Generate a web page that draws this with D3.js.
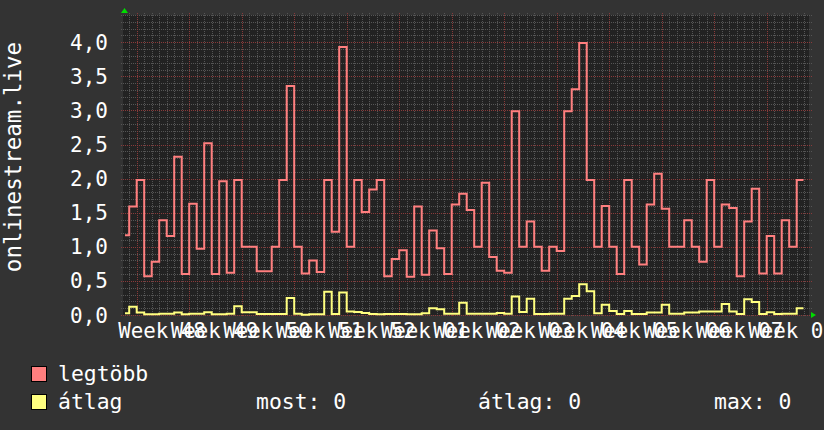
<!DOCTYPE html>
<html><head><meta charset="utf-8">
<script src="https://cdn.jsdelivr.net/npm/d3@7"></script>
<style>html,body{margin:0;padding:0;background:#333333;overflow:hidden;} svg{display:block;}</style>
</head><body>
<svg id="chart" width="824" height="430"></svg>
<script>
// ---- data (one value per day, starting at day0) ----
const day0 = Date.UTC(2024, 10, 23);
const maxValues = [1.17,1.59,1.98,0.57,0.78,1.39,1.16,2.32,0.60,1.63,0.97,2.52,0.60,1.96,0.62,1.98,1.00,1.00,0.64,0.64,
  1.00,1.98,3.36,1.00,0.61,0.80,0.63,1.98,1.22,3.93,1.00,1.98,1.51,1.84,1.98,0.57,0.82,0.95,0.56,1.59,
  0.59,1.24,0.98,0.60,1.62,1.78,1.54,1.00,1.94,0.85,0.65,0.62,2.99,1.00,1.37,1.00,0.65,1.00,0.94,2.99,
  3.31,3.99,1.98,1.00,1.60,1.00,0.60,1.98,1.00,0.74,1.62,2.07,1.56,1.00,1.00,1.39,1.00,0.78,1.98,1.00,
  1.62,1.57,0.57,1.37,1.85,0.61,1.16,0.61,1.39,1.00,1.98];
const avgValues = [0.025,0.12,0.035,0.01,0.01,0.02,0.02,0.035,0.01,0.02,0.02,0.04,0.01,0.01,0.02,0.13,0.04,0.04,0.015,0.015,
  0.015,0.015,0.25,0.02,0.005,0.01,0.01,0.34,0.015,0.33,0.05,0.045,0.03,0.015,0.01,0.015,0.015,0.015,0.01,0.01,
  0.025,0.10,0.085,0.02,0.02,0.18,0.02,0.02,0.02,0.02,0.03,0.02,0.27,0.045,0.24,0.015,0.015,0.02,0.02,0.24,
  0.28,0.45,0.35,0.025,0.15,0.06,0.015,0.06,0.015,0.015,0.035,0.035,0.15,0.02,0.02,0.035,0.035,0.05,0.05,0.05,
  0.16,0.05,0.015,0.23,0.19,0.015,0.04,0.015,0.02,0.02,0.10];
const yTicks = [0,0.5,1.0,1.5,2.0,2.5,3.0,3.5,4.0];
const seriesNames = ["legtöbb","átlag"];
const seriesColors = ["#ff7f7f","#ffff7f"];
const statLabels = ["most: 0","átlag: 0","max: 0"];
const axisTitle = "onlinestream.live";

// ---- layout ----
const W = 824, H = 430;
const plot = {left:123, right:809, top:15, bottom:315};
const DAY = 86400000;
const dayAt = d => new Date(day0 + d*DAY);
const viewStart = 0.173, viewEnd = 91.64;   // visible span in days
const dataStart = 0.44, dataEnd = 90.9;       // span covered by samples

const svg = d3.select("#chart");
const font = "'DejaVu Sans Mono', 'Liberation Mono', monospace";

const x = d3.scaleUtc().domain([dayAt(viewStart), dayAt(viewEnd)]).range([plot.left, plot.right]);
const y = d3.scaleLinear().domain([0, 4.4]).range([plot.bottom, plot.top]);

svg.append("rect").attr("width", W).attr("height", H).attr("fill", "#333333");
svg.append("rect").attr("x", plot.left).attr("y", plot.top)
  .attr("width", plot.right - plot.left).attr("height", plot.bottom - plot.top).attr("fill", "#222222");

const crisp = v => Math.round(v) + 0.5;
const grid = svg.append("g");
// minor vertical (days)
const days = d3.utcDay.range(x.domain()[0], x.domain()[1]);
const mondays = d3.utcMonday.range(x.domain()[0], x.domain()[1]);
const isMonday = d => d.getUTCDay() === 1;
grid.selectAll(".vmin").data(days.filter(d => !isMonday(d))).join("line")
  .attr("x1", d => crisp(x(d))).attr("x2", d => crisp(x(d)))
  .attr("y1", plot.top - 2).attr("y2", plot.bottom + 2)
  .attr("stroke", "#555555").attr("stroke-dasharray", "1,1");
// minor horizontal (0.1)
const minorY = d3.range(1, 45).map(i => i / 10).filter((v, i) => (i + 1) % 5 !== 0);
grid.selectAll(".hmin").data(minorY).join("line")
  .attr("x1", plot.left - 2).attr("x2", plot.right + 3)
  .attr("y1", d => crisp(y(d))).attr("y2", d => crisp(y(d)))
  .attr("stroke", "#555555").attr("stroke-dasharray", "1,1");
// major
grid.selectAll(".vmaj").data(mondays).join("line")
  .attr("x1", d => crisp(x(d))).attr("x2", d => crisp(x(d)))
  .attr("y1", plot.top - 2).attr("y2", plot.bottom + 2)
  .attr("stroke", "#8a3a3a").attr("stroke-dasharray", "1,1");
grid.selectAll(".hmaj").data(yTicks).join("line")
  .attr("x1", plot.left - 2).attr("x2", plot.right + 3)
  .attr("y1", d => crisp(y(d))).attr("y2", d => crisp(y(d)))
  .attr("stroke", "#8a3a3a").attr("stroke-dasharray", "1,1");

// series
function pts(vals) {
  const p = vals.map((v, i) => ({t: dayAt(Math.max(i, dataStart)), v}));
  p.push({t: dayAt(dataEnd), v: vals[vals.length - 1]});
  return p;
}
const line = d3.line().x(d => x(d.t)).y(d => y(d.v)).curve(d3.curveStepAfter);
[maxValues, avgValues].forEach((vals, k) => {
  svg.append("path").datum(pts(vals)).attr("d", line)
    .attr("fill", "none").attr("stroke", seriesColors[k]).attr("stroke-width", 2)
    .attr("stroke-linejoin", "miter");
});

// arrows
svg.append("path").attr("d", `M${plot.left - 2},${plot.top - 2}L${plot.left + 5},${plot.top - 2}L${plot.left + 1.5},${plot.top - 7}Z`).attr("fill", "#00dd00");
svg.append("path").attr("d", `M${plot.right + 2},${plot.bottom - 3}L${plot.right + 2},${plot.bottom + 3}L${plot.right + 7},${plot.bottom}Z`).attr("fill", "#00dd00");

// y tick labels
const locale = d3.formatLocale({decimal: ",", thousands: " ", grouping: [3], currency: ["", ""]});
const fmt = locale.format(".1f");
svg.append("g").selectAll("text").data(yTicks).join("text")
  .attr("x", 108).attr("y", d => y(d) + 7.5).attr("text-anchor", "end")
  .attr("fill", "#ffffff").attr("font-family", font).attr("font-size", 21)
  .text(d => fmt(d));

// x labels (week, centred mid-week)
const weekFmt = d3.utcFormat("Week %V");
svg.append("g").selectAll("text").data(mondays).join("text")
  .attr("x", d => x(new Date(+d + 3.37 * DAY))).attr("y", 338).attr("text-anchor", "middle")
  .attr("fill", "#ffffff").attr("font-family", font).attr("font-size", 20.8)
  .text(d => weekFmt(d));

// axis title
svg.append("text").attr("transform", "translate(21,157) rotate(-90)")
  .attr("text-anchor", "middle").attr("fill", "#ffffff").attr("font-family", font).attr("font-size", 22.5)
  .text(axisTitle);

// legend
const lg = svg.append("g");
seriesNames.forEach((name, i) => {
  lg.append("rect").attr("x", 31.5).attr("y", 366.5 + i * 28).attr("width", 15).attr("height", 15)
    .attr("fill", seriesColors[i]).attr("stroke", "#000000").attr("stroke-width", 1);
  lg.append("text").attr("x", 58).attr("y", 381 + i * 28).attr("fill", "#ffffff")
    .attr("font-family", font).attr("font-size", 21.4).text(name);
});
const statX = [256, 478, 714];
statLabels.forEach((s, i) => {
  lg.append("text").attr("x", statX[i]).attr("y", 409).attr("fill", "#ffffff")
    .attr("font-family", font).attr("font-size", 21.4).text(s);
});
</script>
</body></html>
